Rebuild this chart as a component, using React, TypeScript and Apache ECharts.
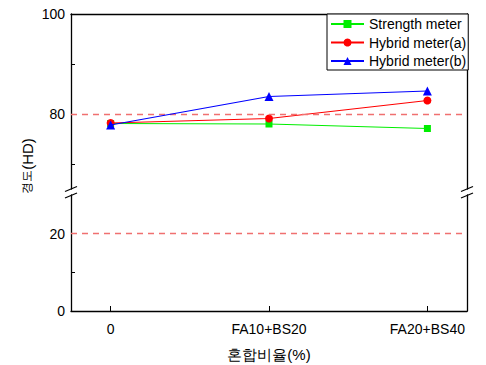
import React, { useEffect, useRef } from "react";
import * as echarts from "echarts";

const categories = ["0", "FA10+BS20", "FA20+BS40"];
const strengthMeter = [78.1, 78.0, 77.1];
const hybridA = [78.2, 79.1, 82.7];
const hybridB = [77.8, 83.5, 84.6];
const refTop = 80;
const refBottom = 20;
const topTicks = [70, 80, 90, 100];
const topLabels = [80, 100];
const bottomTicks = [0, 10, 20];
const bottomLabels = [0, 20];

const FONT = "Liberation Sans, Arial, sans-serif";

export default function App() {
  const ref = useRef<HTMLDivElement>(null);
  useEffect(() => {
    if (!ref.current) return;
    const chart = echarts.init(ref.current, null, { renderer: "svg" });
    const toPts = (arr: number[]) => arr.map((v, i) => [i, v]);
    const lineAxis = { onZero: false, lineStyle: { color: "#000", width: 1.3 } };
    const xBase = { type: "value", min: -0.25, max: 2.25, splitLine: { show: false } };
    const slash = (x: number, y: number) => ({
      type: "line",
      shape: { x1: x - 6, y1: y + 2.5, x2: x + 6, y2: y - 2.5 },
      style: { stroke: "#000", lineWidth: 1.2 },
      z: 100,
    });
    const option: any = {
      animation: false,
      backgroundColor: "#fff",
      grid: [
        { left: 71, right: 19, top: 14, height: 175 },
        { left: 71, right: 19, top: 195, height: 116 },
      ],
      xAxis: [
        {
          ...xBase,
          gridIndex: 0,
          position: "top",
          axisLine: { show: true, ...lineAxis },
          axisTick: { show: false },
          axisLabel: { show: false },
        },
        {
          ...xBase,
          gridIndex: 1,
          position: "bottom",
          axisLine: { show: true, ...lineAxis },
          axisTick: { show: true, inside: true, length: 5, lineStyle: { color: "#000" }, customValues: [0, 1, 2] },
          axisLabel: {
            customValues: [0, 1, 2],
            formatter: (v: number) => categories[Math.round(v)] ?? "",
            color: "#000",
            fontSize: 14,
            fontFamily: FONT,
            margin: 11,
          },
          name: "혼합비율(%)",
          nameLocation: "middle",
          nameGap: 36,
          nameTextStyle: { color: "#000", fontSize: 15, fontFamily: FONT },
        },
      ],
      yAxis: [
        {
          type: "value",
          gridIndex: 0,
          min: 65,
          max: 100,
          position: "left",
          axisLine: { show: true, ...lineAxis },
          axisTick: { show: true, inside: true, length: 4, lineStyle: { color: "#000" }, customValues: topTicks },
          axisLabel: { customValues: topLabels, color: "#000", fontSize: 14, fontFamily: FONT, margin: 6 },
          splitLine: { show: false },
        },
        {
          type: "value",
          gridIndex: 0,
          min: 65,
          max: 100,
          position: "right",
          axisLine: { show: true, ...lineAxis },
          axisTick: { show: false },
          axisLabel: { show: false },
          splitLine: { show: false },
        },
        {
          type: "value",
          gridIndex: 1,
          min: 0,
          max: 30,
          position: "left",
          axisLine: { show: true, ...lineAxis },
          axisTick: { show: true, inside: true, length: 4, lineStyle: { color: "#000" }, customValues: bottomTicks },
          axisLabel: { customValues: bottomLabels, color: "#000", fontSize: 14, fontFamily: FONT, margin: 6 },
          splitLine: { show: false },
        },
        {
          type: "value",
          gridIndex: 1,
          min: 0,
          max: 30,
          position: "right",
          axisLine: { show: true, ...lineAxis },
          axisTick: { show: false },
          axisLabel: { show: false },
          splitLine: { show: false },
        },
      ],
      legend: {
        orient: "vertical",
        left: 327,
        top: 14,
        data: ["Strength meter", "Hybrid meter(a)", "Hybrid meter(b)"],
        backgroundColor: "#fff",
        borderColor: "#000",
        borderWidth: 1,
        borderRadius: 0,
        padding: [3, 2, 2, 3],
        itemWidth: 33,
        itemHeight: 10,
        itemGap: 4.5,
        textStyle: { color: "#000", fontSize: 14, fontFamily: FONT },
      },
      series: [
        {
          name: "ref80",
          type: "line",
          xAxisIndex: 0,
          yAxisIndex: 0,
          data: [],
          markLine: {
            silent: true,
            symbol: "none",
            label: { show: false },
            lineStyle: { color: "#f07070", type: [6, 5], width: 1.3 },
            data: [{ yAxis: refTop }],
          },
        },
        {
          name: "ref20",
          type: "line",
          xAxisIndex: 1,
          yAxisIndex: 2,
          data: [],
          markLine: {
            silent: true,
            symbol: "none",
            label: { show: false },
            lineStyle: { color: "#f07070", type: [6, 5], width: 1.3 },
            data: [{ yAxis: refBottom }],
          },
        },
        {
          name: "Strength meter",
          type: "line",
          xAxisIndex: 0,
          yAxisIndex: 0,
          data: toPts(strengthMeter),
          symbol: "rect",
          symbolSize: 7,
          color: "#00ee00",
          lineStyle: { color: "#00ee00", width: 1.2 },
          itemStyle: { color: "#00ee00" },
          z: 3,
        },
        {
          name: "Hybrid meter(a)",
          type: "line",
          xAxisIndex: 0,
          yAxisIndex: 0,
          data: toPts(hybridA),
          symbol: "circle",
          symbolSize: 8,
          color: "#ff0000",
          lineStyle: { color: "#ff0000", width: 1.2 },
          itemStyle: { color: "#ff0000" },
          z: 4,
        },
        {
          name: "Hybrid meter(b)",
          type: "line",
          xAxisIndex: 0,
          yAxisIndex: 0,
          data: toPts(hybridB),
          symbol: "triangle",
          symbolSize: 9,
          color: "#0000ff",
          lineStyle: { color: "#0000ff", width: 1.2 },
          itemStyle: { color: "#0000ff" },
          z: 5,
        },
      ],
      graphic: [
        {
          type: "rect",
          shape: { x: 64, y: 190, width: 14, height: 4 },
          style: { fill: "#fff" },
          z: 99,
        },
        {
          type: "rect",
          shape: { x: 460, y: 190, width: 14, height: 4 },
          style: { fill: "#fff" },
          z: 99,
        },
        slash(71, 189),
        slash(71, 195.5),
        slash(467, 189),
        slash(467, 195.5),
        {
          type: "text",
          x: 27,
          y: 166,
          rotation: Math.PI / 2,
          style: {
            text: "{k|경도}{l|(HD)}",
            fill: "#000",
            fontFamily: FONT,
            align: "center",
            verticalAlign: "middle",
            rich: {
              k: { fontSize: 12, fontFamily: FONT, fill: "#000" },
              l: { fontSize: 15, fontFamily: FONT, fill: "#000" },
            },
          },
        },
      ],
    };
    chart.setOption(option);
    return () => chart.dispose();
  }, []);
  return (
    <div
      ref={ref}
      style={{ position: "fixed", left: 0, top: 0, width: 486, height: 365 }}
    />
  );
}
